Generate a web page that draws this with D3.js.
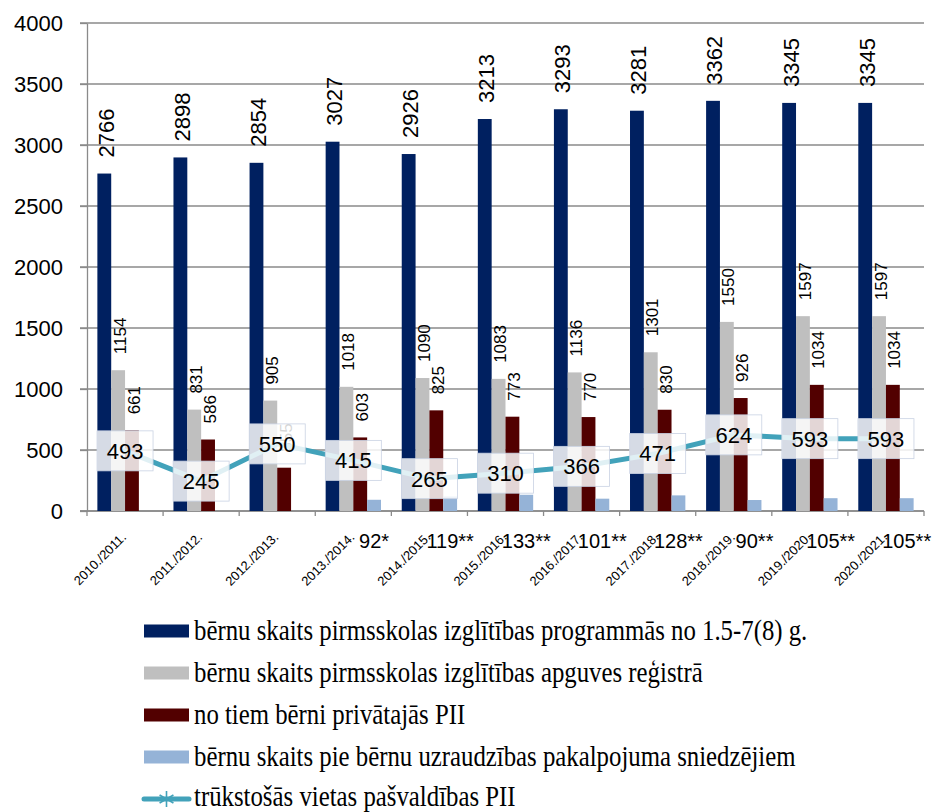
<!DOCTYPE html>
<html>
<head>
<meta charset="utf-8">
<script src="https://cdn.jsdelivr.net/npm/d3@7"></script>
<style>
  html, body { margin: 0; padding: 0; background: #fff; }
  svg { display: block; }
</style>
</head>
<body>
<svg id="chart" width="932" height="812"></svg>
<script>
// ---- data ----
const categories = ["2010./2011.", "2011./2012.", "2012./2013.", "2013./2014.", "2014./2015.", "2015./2016.", "2016./2017.", "2017./2018.", "2018./2019.", "2019./2020.", "2020./2021."];
const seriesNames = [
  "bērnu skaits pirmsskolas izglītības programmās no 1.5-7(8) g.",
  "bērnu skaits pirmsskolas izglītības apguves reģistrā",
  "no tiem bērni privātajās PII",
  "bērnu skaits pie bērnu uzraudzības pakalpojuma sniedzējiem"
];
const lineName = "trūkstošās vietas pašvaldības PII";
const childrenInPrograms = [2766, 2898, 2854, 3027, 2926, 3213, 3293, 3281, 3362, 3345, 3345];
const childrenInRegister = [1154, 831, 905, 1018, 1090, 1083, 1136, 1301, 1550, 1597, 1597];
const childrenPrivate = [661, 586, 355, 603, 825, 773, 770, 830, 926, 1034, 1034];
const childrenSupervision = [null, null, null, 92, 119, 133, 101, 128, 90, 105, 105];
const supervisionMarks = ["", "", "", "*", "**", "**", "**", "**", "**", "**", "**"];
const missingPlaces = [493, 245, 550, 415, 265, 310, 366, 471, 624, 593, 593];
const yTicks = [0, 500, 1000, 1500, 2000, 2500, 3000, 3500, 4000];

// ---- styles ----
const colors = ["#002060", "#BFBFBF", "#520000", "#95B3D7"];
const lineColor = "#42A2BA";
const gridColor = "#8a8a8a";
const sans = "'Liberation Sans', Arial, sans-serif";
const serif = "'Liberation Serif', 'Times New Roman', serif";

const svg = d3.select("#chart");
const pLeft = 87, pRight = 924, pTop = 23, pBottom = 511;

const x = d3.scaleBand().domain(categories).range([pLeft, pRight]).paddingInner(0).paddingOuter(0);
const bw = x.bandwidth();
const x1 = d3.scaleBand().domain([0, 1, 2, 3]).range([0, bw]).paddingInner(0).paddingOuter(0.75);
const y = d3.scaleLinear().domain([0, 4000]).range([pBottom, pTop]);

// gridlines
svg.append("g").selectAll("line").data(yTicks).join("line")
  .attr("x1", pLeft - 7).attr("x2", pRight)
  .attr("y1", d => y(d)).attr("y2", d => y(d))
  .attr("stroke", gridColor).attr("stroke-width", 1.3);

// y axis
const yAxis = svg.append("g").attr("transform", `translate(${pLeft},0)`)
  .call(d3.axisLeft(y).tickValues(yTicks).tickFormat(d3.format("d")).tickSize(7).tickPadding(17).tickSizeOuter(0));
yAxis.select(".domain").attr("stroke", gridColor).attr("stroke-width", 1.3);
yAxis.selectAll(".tick line").attr("stroke", gridColor).attr("stroke-width", 1.3);
yAxis.selectAll(".tick text").attr("font-family", sans).attr("font-size", 22).attr("fill", "#000");

// x axis line & ticks at band boundaries
const boundaries = categories.map(c => x(c)).concat([pRight]);
svg.append("line").attr("x1", pLeft - 7).attr("x2", pRight).attr("y1", pBottom).attr("y2", pBottom)
  .attr("stroke", gridColor).attr("stroke-width", 1.3);
svg.append("g").selectAll("line").data(boundaries).join("line")
  .attr("x1", d => d).attr("x2", d => d).attr("y1", pBottom).attr("y2", pBottom + 5)
  .attr("stroke", gridColor).attr("stroke-width", 1.3);

// x labels
svg.append("g").selectAll("text").data(categories).join("text")
  .attr("transform", d => `translate(${x(d) + bw / 2 + 2},${pBottom + 27}) rotate(-45)`)
  .attr("text-anchor", "end")
  .attr("font-family", sans).attr("font-size", 13).attr("fill", "#000")
  .text(d => d);

// bars
const seriesData = [childrenInPrograms, childrenInRegister, childrenPrivate, childrenSupervision];
const barRows = [];
seriesData.forEach((arr, si) => arr.forEach((v, i) => { if (v != null) barRows.push({ si, i, v }); }));
const bw1 = x1.bandwidth();
svg.append("g").selectAll("rect").data(barRows).join("rect")
  .attr("x", d => x(categories[d.i]) + x1(d.si))
  .attr("y", d => y(d.v))
  .attr("width", bw1)
  .attr("height", d => y(0) - y(d.v))
  .attr("fill", d => colors[d.si]);

// rotated bar labels (first three series)
const labelSizes = [22, 17, 17];
svg.append("g").selectAll("text").data(barRows.filter(d => d.si < 3)).join("text")
  .attr("transform", d => `translate(${x(categories[d.i]) + x1(d.si) + bw1 / 2 + 1.5},${y(d.v) - 16}) rotate(-90)`)
  .attr("dy", "0.36em")
  .attr("text-anchor", "start")
  .attr("font-family", sans).attr("font-size", d => labelSizes[d.si]).attr("fill", "#000")
  .text(d => d.v);

// supervision labels below axis
svg.append("g").selectAll("text").data(barRows.filter(d => d.si === 3)).join("text")
  .attr("x", d => x(categories[d.i]) + x1(3) + bw1 / 2)
  .attr("y", 548)
  .attr("text-anchor", "middle")
  .attr("font-family", sans).attr("font-size", 20).attr("fill", "#000")
  .text(d => d.v + supervisionMarks[d.i]);

// line
const pts = missingPlaces.map((v, i) => [x(categories[i]) + bw / 2, y(v)]);
svg.append("path").attr("d", d3.line()(pts))
  .attr("fill", "none").attr("stroke", lineColor).attr("stroke-width", 5)
  .attr("stroke-linejoin", "round").attr("stroke-linecap", "round");

// line labels with boxes
const lbl = svg.append("g").selectAll("g").data(pts).join("g")
  .attr("transform", d => `translate(${d[0]},${d[1]})`);
lbl.append("rect").attr("x", -28).attr("y", -20).attr("width", 56).attr("height", 40)
  .attr("fill", "#fff").attr("fill-opacity", 0.84)
  .attr("stroke", "#c9d2e3").attr("stroke-width", 0.8);
lbl.append("text").attr("text-anchor", "middle").attr("dy", "0.36em")
  .attr("font-family", sans).attr("font-size", 22).attr("fill", "#000")
  .text((d, i) => missingPlaces[i]);

// legend
const legendY = [631, 673, 715, 757, 799];
const legX = 144, legW = 45, legTextX = 194;
const leg = svg.append("g");
seriesNames.forEach((name, i) => {
  leg.append("rect").attr("x", legX).attr("y", legendY[i] - 6.5).attr("width", legW).attr("height", 13)
    .attr("fill", colors[i]);
  leg.append("text").attr("transform", `translate(${legTextX},${legendY[i] + 9}) scale(1,1.2)`)
    .attr("font-family", serif).attr("font-size", 24.8).attr("fill", "#000")
    .text(name);
});
leg.append("line").attr("x1", legX).attr("x2", legX + legW).attr("y1", legendY[4]).attr("y2", legendY[4])
  .attr("stroke", lineColor).attr("stroke-width", 5).attr("stroke-linecap", "round");
const mx = legX + legW / 2, my = legendY[4];
[0, 60, 120].forEach(a => {
  const r = 8, rad = a * Math.PI / 180;
  leg.append("line")
    .attr("x1", mx - r * Math.sin(rad)).attr("y1", my - r * Math.cos(rad))
    .attr("x2", mx + r * Math.sin(rad)).attr("y2", my + r * Math.cos(rad))
    .attr("stroke", lineColor).attr("stroke-width", 1.6);
});
leg.append("text").attr("transform", `translate(${legTextX},${legendY[4] + 7}) scale(1,1.15)`)
  .attr("font-family", serif).attr("font-size", 24.8).attr("fill", "#000")
  .text(lineName);
</script>
</body>
</html>
